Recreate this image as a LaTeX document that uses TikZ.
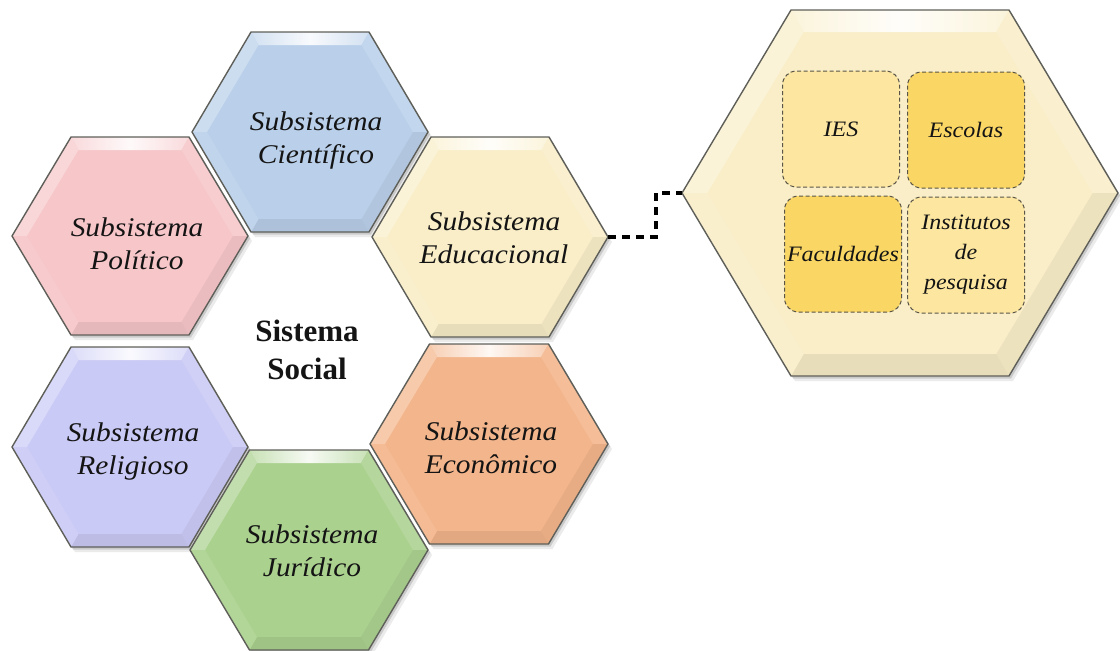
\documentclass[tikz,border=0pt]{standalone}
\usepackage{fontspec}
\setmainfont{Liberation Serif}
\newfontfamily\hexfont[FakeStretch=1.09]{Liberation Serif}
\usetikzlibrary{calc}

\definecolor{polPink}{RGB}{246,198,201}
\definecolor{cieBlue}{RGB}{186,208,234}
\definecolor{eduCream}{RGB}{249,238,200}
\definecolor{relLilac}{RGB}{202,202,246}
\definecolor{ecoPeach}{RGB}{243,181,139}
\definecolor{jurGreen}{RGB}{171,209,143}
\definecolor{unitPale}{RGB}{252,230,160}
\definecolor{unitGold}{RGB}{250,214,100}
\definecolor{hexEdge}{RGB}{95,95,90}
\definecolor{boxEdge}{RGB}{90,85,70}
\definecolor{textDark}{RGB}{20,20,20}

\tikzset{
  hexline/.style={draw=hexEdge, line width=1.4pt, line join=round},
  hexlabel/.style={align=center, inner sep=0pt, text=textDark,
    font=\hexfont\itshape\fontsize{27}{33}\selectfont},
  unitbox/.style={draw=boxEdge, dash pattern=on 4pt off 2.5pt, line width=1pt,
    rounded corners=14pt, minimum width=117pt, minimum height=116pt,
    inner sep=0pt, align=center, text=textDark,
    font=\hexfont\itshape\fontsize{22}{30}\selectfont},
  hublabel/.style={align=center, inner sep=0pt, text=textDark,
    font=\bfseries\fontsize{31}{38}\selectfont},
  link/.style={draw=black, line width=3.5pt, dash pattern=on 8pt off 6pt},
}

% bevelled hexagon: name, centre x, centre y, half width, half height, colour, bevel depth
\newcommand\hexcell[7]{%
  \begin{scope}[shift={(#2,#3)}]
    \pgfmathsetmacro\hw{#4}\pgfmathsetmacro\hh{#5}%
    \pgfmathsetmacro\iw{#4-1.15*#7}\pgfmathsetmacro\ih{#5-#7}%
    \coordinate (#1-E) at (\hw,0);
    \coordinate (#1-W) at (-\hw,0);
    % soft drop shadow
    \fill[black,opacity=.08] ({\hw+4},5) -- ({\hw/2+4},{-\hh+5}) -- ({-\hw/2+4},{-\hh+5})
      -- ({-\hw+4},5) -- ({-\hw/2+4},{\hh+5}) -- ({\hw/2+4},{\hh+5}) -- cycle;
    \fill[black,opacity=.14] ({\hw+2},2.5) -- ({\hw/2+2},{-\hh+2.5}) -- ({-\hw/2+2},{-\hh+2.5})
      -- ({-\hw+2},2.5) -- ({-\hw/2+2},{\hh+2.5}) -- ({\hw/2+2},{\hh+2.5}) -- cycle;
    % face
    \fill[#6] (\hw,0) -- ({\hw/2},{-\hh}) -- ({-\hw/2},{-\hh}) -- ({-\hw},0)
      -- ({-\hw/2},{\hh}) -- ({\hw/2},{\hh}) -- cycle;
    % bevel facets
    \shade[left color=#6!65!white, right color=#6!65!white, middle color=#6!10!white]
      ({-\hw/2},{-\hh}) -- ({\hw/2},{-\hh}) -- ({\iw/2},{-\ih}) -- ({-\iw/2},{-\ih}) -- cycle;
    \fill[#6!72!white] ({-\hw},0) -- ({-\hw/2},{-\hh}) -- ({-\iw/2},{-\ih}) -- ({-\iw},0) -- cycle;
    \fill[#6!88!white] (\hw,0) -- ({\hw/2},{-\hh}) -- ({\iw/2},{-\ih}) -- (\iw,0) -- cycle;
    \fill[#6!95!black] (\hw,0) -- ({\hw/2},{\hh}) -- ({\iw/2},{\ih}) -- (\iw,0) -- cycle;
    \fill[#6!93!black] ({\hw/2},{\hh}) -- ({-\hw/2},{\hh}) -- ({-\iw/2},{\ih}) -- ({\iw/2},{\ih}) -- cycle;
    \fill[#6!92!white] ({-\hw},0) -- ({-\hw/2},{\hh}) -- ({-\iw/2},{\ih}) -- ({-\iw},0) -- cycle;
    % outline
    \draw[hexline] (\hw,0) -- ({\hw/2},{-\hh}) -- ({-\hw/2},{-\hh}) -- ({-\hw},0)
      -- ({-\hw/2},{\hh}) -- ({\hw/2},{\hh}) -- cycle;
  \end{scope}}

\begin{document}
\begin{tikzpicture}[x=1pt,y=-1pt]
  \useasboundingbox (0,0) rectangle (1120,651);

  % ring of subsystems
  \hexcell{pol}{130}{236}{118}{99}{polPink}{13}
  \hexcell{cie}{310}{132}{118}{100}{cieBlue}{13}
  \hexcell{edu}{490}{237}{118}{100}{eduCream}{13}
  \hexcell{rel}{130}{447}{118}{100}{relLilac}{13}
  \hexcell{eco}{489}{444}{119}{100}{ecoPeach}{13}
  \hexcell{jur}{309}{550}{119}{100}{jurGreen}{13}

  \node[hexlabel] (polT) at (137,246) {\strut Subsistema\\\strut Político};
  \node[hexlabel] (cieT) at (316,140) {\strut Subsistema\\\strut Científico};
  \node[hexlabel] (eduT) at (494,240) {\strut Subsistema\\\strut Educacional};
  \node[hexlabel] (relT) at (133,451) {\strut Subsistema\\\strut Religioso};
  \node[hexlabel] (ecoT) at (491,450) {\strut Subsistema\\\strut Econômico};
  \node[hexlabel] (jurT) at (312,553) {\strut Subsistema\\\strut Jurídico};

  \node[hublabel] (hub) at (307,350) {Sistema\\Social};

  % expanded educational subsystem
  \hexcell{big}{900}{193}{218}{183}{eduCream}{22}

  \node[unitbox, fill=unitPale] (ies) at (841,129) {IES};
  \node[unitbox, fill=unitGold] (esc) at (966,130) {Escolas};
  \node[unitbox, fill=unitGold] (fac) at (843,254) {Faculdades};
  \node[unitbox, fill=unitPale] (ins) at (966,255) {Institutos\\de\\pesquisa};

  % link from the educational cell to its detail
  \coordinate (bend) at (656,193);
  \draw[link] (edu-E) -| (bend) -- (big-W);
\end{tikzpicture}
\end{document}
